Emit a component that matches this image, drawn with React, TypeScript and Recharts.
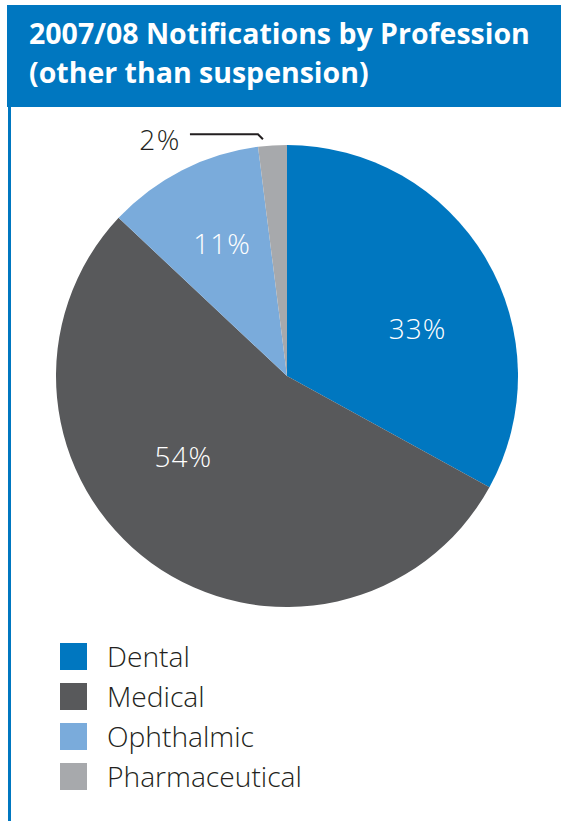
import React from "react";
import { PieChart, Pie, Cell, Legend } from "recharts";

// 2007/08 notifications by profession (other than suspension), in percent
const professions = ["Dental", "Medical", "Ophthalmic", "Pharmaceutical"];
const shares = [33, 54, 11, 2];
const colors = ["#0077c0", "#58595b", "#7aabdb", "#a7a9ac"];

// label nudges per slice: angle offset (deg) and distance from centre
const labelPos = [
  { dA: -10.5, r: 139 },
  { dA: -16.3, r: 131 },
  { dA: -1, r: 148 },
];

const data = professions.map((name, i) => ({ name, value: shares[i] }));

const RAD = Math.PI / 180;
const polar = (cx: number, cy: number, r: number, a: number) => ({
  x: cx + r * Math.cos(-a * RAD),
  y: cy + r * Math.sin(-a * RAD),
});

const labelFont = "'Open Sans', 'DejaVu Sans', sans-serif";

const renderLabel = (props: any) => {
  const { cx, cy, midAngle, outerRadius, index, value } = props;
  if (index < labelPos.length) {
    const p = polar(cx, cy, labelPos[index].r, midAngle + labelPos[index].dA);
    return (
      <text
        x={p.x}
        y={p.y}
        fill="#fff"
        textAnchor="middle"
        dominantBaseline="central"
        fontFamily={labelFont}
        fontWeight={300}
        fontSize={28}
        letterSpacing={1}
      >
        {value}%
      </text>
    );
  }
  // small slice: label outside with a leader line
  const p0 = polar(cx, cy, outerRadius + 7, midAngle + 2.2);
  const p1 = { x: p0.x - 5, y: p0.y - 5 };
  const p2 = { x: p1.x - 68, y: p1.y };
  return (
    <g>
      <polyline
        points={`${p0.x},${p0.y} ${p1.x},${p1.y} ${p2.x},${p2.y}`}
        fill="none"
        stroke="#231f20"
        strokeWidth={2}
      />
      <text
        x={p2.x - 9}
        y={p1.y + 5}
        fill="#231f20"
        textAnchor="end"
        dominantBaseline="central"
        fontFamily={labelFont}
        fontWeight={300}
        fontSize={28}
        letterSpacing={1.5}
      >
        {value}%
      </text>
    </g>
  );
};

const renderLegend = (props: any) => {
  const { payload } = props;
  return (
    <div>
      {(payload || []).map((entry: any) => (
        <div
          key={entry.value}
          style={{ display: "flex", alignItems: "center", height: 40 }}
        >
          <span
            style={{
              width: 27,
              height: 27,
              background: entry.color,
              display: "inline-block",
              marginRight: 20,
            }}
          />
          <span
            style={{
              fontFamily: labelFont,
              fontWeight: 300,
              fontSize: 28.2,
              color: "#231f20",
              lineHeight: "40px",
            }}
          >
            {entry.value}
          </span>
        </div>
      ))}
    </div>
  );
};

export default function App() {
  return (
    <div
      style={{
        position: "absolute",
        left: 0,
        top: 0,
        width: 561,
        height: 821,
        background: "#fff",
        overflow: "hidden",
      }}
    >
      <div
        style={{
          position: "absolute",
          left: 7,
          top: 5,
          width: 554,
          height: 102,
          background: "#0077c0",
        }}
      />
      <div
        style={{
          position: "absolute",
          left: 8,
          top: 107,
          width: 3,
          height: 714,
          background: "#0077c0",
        }}
      />
      <div
        style={{
          position: "absolute",
          left: 29,
          top: 14,
          color: "#fff",
          fontFamily: "'Open Sans', sans-serif",
          fontWeight: 700,
          fontSize: 28.5,
          lineHeight: "39px",
          whiteSpace: "pre",
        }}
      >
        {"2007/08 Notifications by Profession\n(other than suspension)"}
      </div>
      <div style={{ position: "absolute", left: 0, top: 0 }}>
        <PieChart
          width={561}
          height={821}
          margin={{ top: 0, right: 0, bottom: 0, left: 0 }}
        >
          <Pie
            data={data}
            dataKey="value"
            nameKey="name"
            cx={287}
            cy={376}
            outerRadius={231}
            startAngle={90}
            endAngle={-270}
            stroke="none"
            label={renderLabel}
            labelLine={false}
            isAnimationActive={false}
          >
            {data.map((d, i) => (
              <Cell key={d.name} fill={colors[i]} />
            ))}
          </Pie>
          <Legend
            layout="vertical"
            content={renderLegend}
            wrapperStyle={{ left: 60, top: 636, width: 300 }}
          />
        </PieChart>
      </div>
    </div>
  );
}
